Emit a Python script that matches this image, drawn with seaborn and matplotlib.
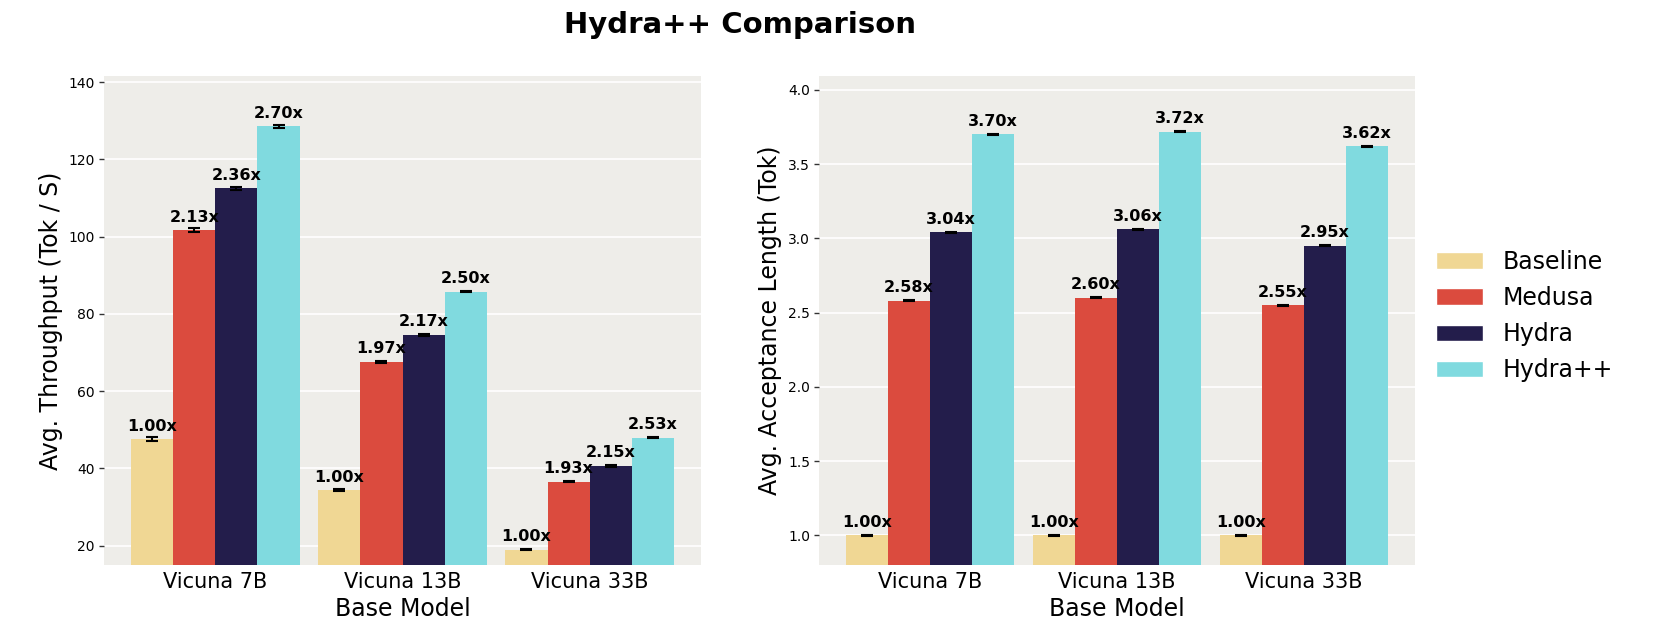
import matplotlib
matplotlib.use("Agg")
import matplotlib.pyplot as plt
import seaborn as sns
import pandas as pd
import numpy as np

models = ["Vicuna 7B", "Vicuna 13B", "Vicuna 33B"]
methods = ["Baseline", "Medusa", "Hydra", "Hydra++"]
colors = ["#F0D794", "#DB4B3E", "#231D4B", "#80DADF"]

# Throughput (tok/s) per method, ordered by models
thr_baseline = [47.6, 34.4, 19.0]
thr_medusa = [101.7, 67.6, 36.6]
thr_hydra = [112.5, 74.6, 40.7]
thr_hydrapp = [128.6, 85.8, 48.0]
thr_err_baseline = [0.45, 0.15, 0.15]
thr_err_medusa = [0.6, 0.2, 0.2]
thr_err_hydra = [0.45, 0.2, 0.2]
thr_err_hydrapp = [0.4, 0.2, 0.2]
thr_speedup_baseline = ["1.00x", "1.00x", "1.00x"]
thr_speedup_medusa = ["2.13x", "1.97x", "1.93x"]
thr_speedup_hydra = ["2.36x", "2.17x", "2.15x"]
thr_speedup_hydrapp = ["2.70x", "2.50x", "2.53x"]

# Acceptance length (tok)
acc_baseline = [1.00, 1.00, 1.00]
acc_medusa = [2.58, 2.60, 2.55]
acc_hydra = [3.04, 3.06, 2.95]
acc_hydrapp = [3.70, 3.72, 3.62]
acc_err = [0.004, 0.004, 0.004]

thr_vals = [thr_baseline, thr_medusa, thr_hydra, thr_hydrapp]
thr_errs = [thr_err_baseline, thr_err_medusa, thr_err_hydra, thr_err_hydrapp]
thr_labels = [thr_speedup_baseline, thr_speedup_medusa, thr_speedup_hydra, thr_speedup_hydrapp]
acc_vals = [acc_baseline, acc_medusa, acc_hydra, acc_hydrapp]

def make_df(vals, errs, labels):
    rows = []
    for mi, m in enumerate(methods):
        for gi, g in enumerate(models):
            rows.append({"Base Model": g, "Method": m, "value": vals[mi][gi],
                         "err": errs[mi][gi], "label": labels[mi][gi]})
    return pd.DataFrame(rows)

df_thr = make_df(thr_vals, thr_errs, thr_labels)
acc_labels = [[f"{v:.2f}x" for v in vs] for vs in acc_vals]
df_acc = make_df(acc_vals, [acc_err] * 4, acc_labels)

sns.set_theme(style="darkgrid")
plt.rcParams.update({
    "axes.facecolor": "#EEEDE9",
    "grid.color": "white",
    "grid.linewidth": 1.2,
    "font.family": ["DejaVu Sans"],
    "text.color": "black",
    "axes.labelcolor": "black",
    "xtick.color": "black",
    "ytick.color": "black",
})

fig = plt.figure(figsize=(16.54, 6.42), dpi=100)
ax1 = fig.add_axes([104 / 1654, 1 - 565 / 642, 597 / 1654, 489 / 642])
ax2 = fig.add_axes([819 / 1654, 1 - 565 / 642, 596 / 1654, 489 / 642])

def draw(ax, df, ylim, ylabel, yticks):
    sns.barplot(data=df, x="Base Model", y="value", hue="Method", order=models,
                hue_order=methods, palette=colors, width=0.9, errorbar=None,
                saturation=1, ax=ax, legend=False, linewidth=0, edgecolor="none")
    for mi, m in enumerate(methods):
        cont = ax.containers[mi]
        sub = df[df["Method"] == m].set_index("Base Model").loc[models]
        xs = [p.get_x() + p.get_width() / 2 for p in cont]
        ax.errorbar(xs, sub["value"].values, yerr=sub["err"].values, fmt="none",
                    ecolor="black", elinewidth=1.5, capsize=4.5, capthick=1.5, zorder=5)
        for x, v, lab in zip(xs, sub["value"].values, sub["label"].values):
            ax.annotate(lab, (x, v), xytext=(0, 4), textcoords="offset points",
                        ha="center", va="bottom", fontsize=11.5, fontweight="bold",
                        color="black")
    ax.set_xlim(-0.595, 2.595)
    ax.set_ylim(*ylim)
    ax.set_yticks(yticks)
    ax.grid(axis="x", visible=False)
    ax.set_axisbelow(True)
    for s in ax.spines.values():
        s.set_visible(False)
    ax.tick_params(axis="y", which="major", left=True, length=3.5, width=1,
                   color="#333333", labelsize=10, pad=3)
    ax.tick_params(axis="x", length=0, labelsize=15, pad=5)
    ax.set_xlabel("Base Model", fontsize=17)
    ax.set_ylabel(ylabel, fontsize=17)

draw(ax1, df_thr, (15, 141.6), "Avg. Throughput (Tok / S)", [20, 40, 60, 80, 100, 120, 140])
draw(ax2, df_acc, (0.8, 4.094), "Avg. Acceptance Length (Tok)", [1.0, 1.5, 2.0, 2.5, 3.0, 3.5, 4.0])
ax2.yaxis.set_major_formatter(matplotlib.ticker.FormatStrFormatter("%.1f"))

from matplotlib.patches import Patch
handles = [Patch(facecolor=c, label=m) for c, m in zip(colors, methods)]
fig.legend(handles=handles, loc="center left", bbox_to_anchor=(1415 / 1654, 1 - 316 / 642),
           frameon=False, fontsize=17, labelspacing=0.52)

fig.suptitle("Hydra++ Comparison", x=740 / 1654, y=1 - 25 / 642, va="center",
             fontsize=21, fontweight="bold", color="black")

fig.savefig("out.png", dpi=100)
